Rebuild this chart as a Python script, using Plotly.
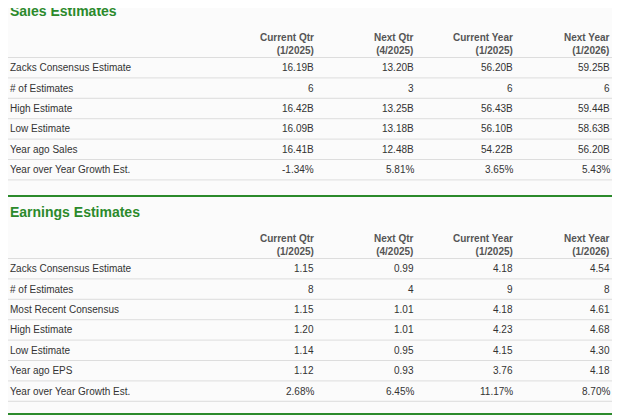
import plotly.graph_objects as go

columns = ["Current Qtr<br>(1/2025)", "Next Qtr<br>(4/2025)", "Current Year<br>(1/2025)", "Next Year<br>(1/2026)"]

sales_rows = ["Zacks Consensus Estimate", "# of Estimates", "High Estimate", "Low Estimate",
              "Year ago Sales", "Year over Year Growth Est."]
sales_values = [
    ["16.19B", "13.20B", "56.20B", "59.25B"],
    ["6", "3", "6", "6"],
    ["16.42B", "13.25B", "56.43B", "59.44B"],
    ["16.09B", "13.18B", "56.10B", "58.63B"],
    ["16.41B", "12.48B", "54.22B", "56.20B"],
    ["-1.34%", "5.81%", "3.65%", "5.43%"],
]

earnings_rows = ["Zacks Consensus Estimate", "# of Estimates", "Most Recent Consensus", "High Estimate",
                 "Low Estimate", "Year ago EPS", "Year over Year Growth Est."]
earnings_values = [
    ["1.15", "0.99", "4.18", "4.54"],
    ["8", "4", "9", "8"],
    ["1.15", "1.01", "4.18", "4.61"],
    ["1.20", "1.01", "4.23", "4.68"],
    ["1.14", "0.95", "4.15", "4.30"],
    ["1.12", "0.93", "3.76", "4.18"],
    ["2.68%", "6.45%", "11.17%", "8.70%"],
]

GREEN = "#2b8a2b"
TEXT = "#333333"
col_x = [316, 416, 515, 612]
ROW_H = 20.4
OFF = 8  # page body margin

fig = go.Figure()
annotations = []
shapes = []


def add_section(title, rows, values, top):
    annotations.append(dict(x=8, y=top, text=f"<b>{title}</b>", xanchor="left", yanchor="middle",
                            font=dict(size=14, color=GREEN)))
    for cx, col in zip(col_x, columns):
        annotations.append(dict(x=cx, y=top + 33, text=f"<b>{col}</b>", xanchor="right", yanchor="middle",
                                align="right", font=dict(size=10, color="#555555")))
    y_line = top + 46.5
    shapes.append(dict(type="line", x0=6, x1=614, y0=y_line, y1=y_line, line=dict(color="#dddddd", width=1)))
    for i, (label, vals) in enumerate(zip(rows, values)):
        yc = y_line + ROW_H * (i + 0.5)
        annotations.append(dict(x=8, y=yc, text=label, xanchor="left", yanchor="middle",
                                font=dict(size=10, color=TEXT)))
        for cx, v in zip(col_x, vals):
            annotations.append(dict(x=cx, y=yc, text=v, xanchor="right", yanchor="middle",
                                    font=dict(size=10, color=TEXT)))
        yl = y_line + ROW_H * (i + 1)
        shapes.append(dict(type="line", x0=6, x1=614, y0=yl, y1=yl, line=dict(color="#dddddd", width=1)))


add_section("Sales Estimates", sales_rows, sales_values, 11)
shapes.append(dict(type="line", x0=0, x1=620, y0=196, y1=196, line=dict(color=GREEN, width=2)))
add_section("Earnings Estimates", earnings_rows, earnings_values, 212)
shapes.append(dict(type="line", x0=0, x1=620, y0=414, y1=414, line=dict(color=GREEN, width=2)))

fig.update_layout(
    width=620, height=420,
    margin=dict(l=0, r=0, t=0, b=0),
    paper_bgcolor="#fbfbfb", plot_bgcolor="#fbfbfb",
    font=dict(family="Liberation Sans, Arial, sans-serif"),
    xaxis=dict(range=[OFF, 620 + OFF], visible=False, fixedrange=True),
    yaxis=dict(range=[420 + OFF, OFF], visible=False, fixedrange=True),
    annotations=[dict(a, xref="x", yref="y", showarrow=False) for a in annotations],
    shapes=[dict(s, xref="x", yref="y", layer="below") for s in shapes],
    showlegend=False,
)
fig.write_html("out.html")
